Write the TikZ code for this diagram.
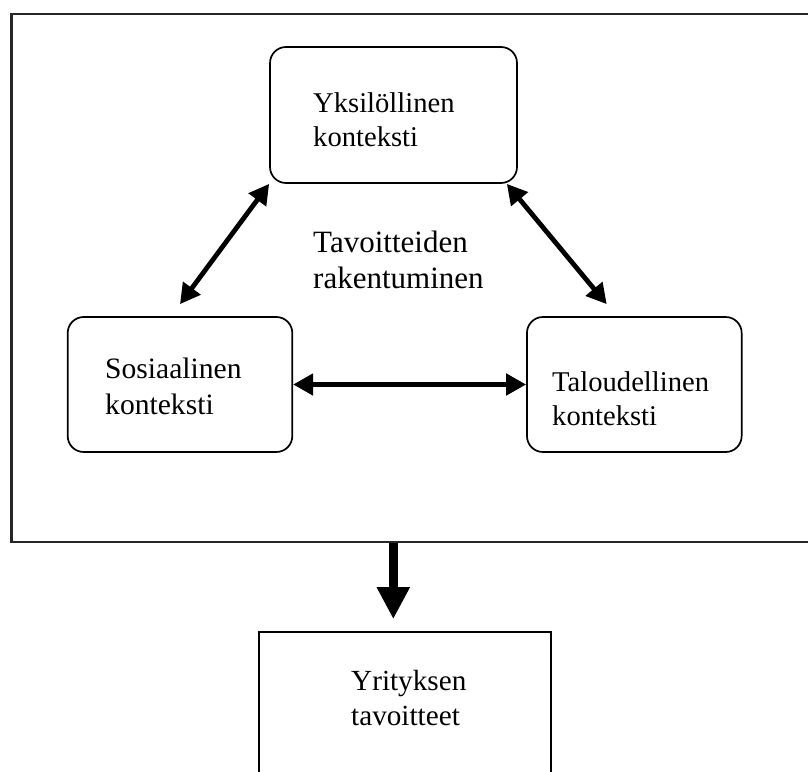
\documentclass[tikz,border=0pt]{standalone}
\usepackage{fontspec}
\setmainfont{Liberation Serif}
\usetikzlibrary{arrows.meta}
\begin{document}
\begin{tikzpicture}[x=1pt,y=-1pt,
  ctxbox/.style={draw, line width=1.7pt, rounded corners=16pt, inner sep=0pt},
  plainbox/.style={draw, line width=1.7pt, inner sep=0pt},
  framebox/.style={draw, line width=2.2pt, draw=black!85, inner sep=0pt},
  lbl/.style={inner sep=0pt, align=left, anchor=base west,
    font=\fontsize{28.6}{34}\selectfont},
  dbl/.style={line width=4.8pt,
    {Triangle[length=20pt,width=21pt]}-{Triangle[length=20pt,width=21pt]}},
  bigarrow/.style={line width=9pt, -{Triangle[length=32pt,width=31pt]}}]
  \useasboundingbox (0,0) rectangle (808,771);

  % outer frame (runs past the right edge)
  \node[framebox, minimum width=808.5pt, minimum height=527.7pt] (frame) at (415.75,277.85) {};

  % context boxes
  \node[ctxbox, minimum width=247pt, minimum height=136pt] (indiv) at (393.5,115) {};
  \node[ctxbox, minimum width=224.6pt, minimum height=135pt] (social) at (180,384.5) {};
  \node[ctxbox, minimum width=214.7pt, minimum height=135pt] (econ) at (634.3,384.5) {};

  % goal box (open at the lower page edge)
  \node[plainbox, minimum width=292pt, minimum height=200pt] (goals) at (405,732) {};

  % labels (anchored at the baseline of their last line)
  \node[lbl] (tindiv) at (313,146) {Yksilöllinen\\konteksti};
  \node[lbl, font=\fontsize{31}{36}\selectfont] (tmid) at (313,288) {Tavoitteiden\\rakentuminen};
  \node[lbl, font=\fontsize{29.6}{36}\selectfont] (tsocial) at (105,414) {Sosiaalinen\\konteksti};
  \node[lbl] (tecon) at (552,425) {Taloudellinen\\konteksti};
  \node[lbl, font=\fontsize{29.2}{35}\selectfont] (tgoals) at (351,725) {Yrityksen\\tavoitteet};

  % interactions between the contexts
  \draw[dbl] (indiv.south west) -- ([yshift=12pt]social.north);
  \draw[dbl] ([xshift=-11pt]indiv.south east) -- ([xshift=-27.6pt,yshift=12pt]econ.north);
  \draw[dbl] (social.east) -- (econ.west);

  % from the frame down to the goals
  \draw[bigarrow] ([xshift=-11.7pt]goals.north |- frame.south) -- ([xshift=-11.7pt,yshift=12pt]goals.north);
\end{tikzpicture}
\end{document}
